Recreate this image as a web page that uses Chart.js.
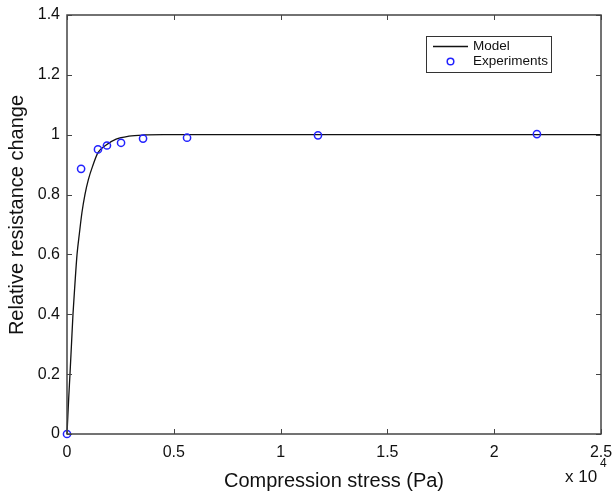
<!DOCTYPE html>
<html>
<head>
<meta charset="utf-8">
<script src="https://cdn.jsdelivr.net/npm/chart.js@4.4.1/dist/chart.umd.min.js"></script>
<style>
html,body{margin:0;padding:0;background:#fff;}
#wrap{width:614px;height:492px;position:relative;}
</style>
</head>
<body>
<div id="wrap"><canvas id="c" width="614" height="492"></canvas></div>
<script>
// Data (x in units of 10^4 Pa)
const modelX = [0, 0.004, 0.008, 0.014, 0.021, 0.028, 0.037, 0.047, 0.058, 0.07, 0.084, 0.1, 0.12, 0.145, 0.18, 0.23, 0.29, 0.36, 0.45, 0.6, 1.0, 2.5];
const modelY = [0, 0.06, 0.12, 0.2, 0.3, 0.4, 0.5, 0.6, 0.67, 0.74, 0.8, 0.85, 0.895, 0.94, 0.964, 0.985, 0.995, 0.999, 1.0, 1.0, 1.0, 1.0];
const expX = [0, 0.066, 0.145, 0.187, 0.253, 0.356, 0.562, 1.175, 2.2];
const expY = [0, 0.886, 0.951, 0.964, 0.973, 0.987, 0.99, 0.998, 1.002];
const xTicks = [0, 0.5, 1, 1.5, 2, 2.5];
const yTicks = [0, 0.2, 0.4, 0.6, 0.8, 1, 1.2, 1.4];
const seriesNames = ["Model", "Experiments"];
const xTitle = "Compression stress (Pa)";
const yTitle = "Relative resistance change";

const FONT = "'Liberation Sans', Arial, Helvetica, sans-serif";
const FRAME = "#444";

const framePlugin = {
  id: 'frame',
  afterDraw(chart) {
    const ctx = chart.ctx;
    const a = chart.chartArea;
    const xs = chart.scales.x, ys = chart.scales.y;
    ctx.save();
    ctx.strokeStyle = FRAME;
    ctx.lineWidth = 1.5;
    ctx.strokeRect(a.left, a.top, a.right - a.left, a.bottom - a.top);
    ctx.lineWidth = 1;
    ctx.beginPath();
    xTicks.forEach(v => {
      const p = Math.round(xs.getPixelForValue(v)) + 0.5;
      ctx.moveTo(p, a.bottom); ctx.lineTo(p, a.bottom - 5);
      ctx.moveTo(p, a.top); ctx.lineTo(p, a.top + 5);
    });
    yTicks.forEach(v => {
      const p = Math.round(ys.getPixelForValue(v)) + 0.5;
      ctx.moveTo(a.left, p); ctx.lineTo(a.left + 5, p);
      ctx.moveTo(a.right, p); ctx.lineTo(a.right - 5, p);
    });
    ctx.stroke();

    // axis titles
    ctx.fillStyle = "#111";
    ctx.font = "20px " + FONT;
    ctx.textAlign = "center";
    ctx.textBaseline = "middle";
    ctx.fillText(xTitle, (a.left + a.right) / 2, 481);
    ctx.save();
    ctx.translate(17, 215);
    ctx.rotate(-Math.PI / 2);
    ctx.fillText(yTitle, 0, 0);
    ctx.restore();

    // exponent label
    ctx.textAlign = "left";
    ctx.font = "17px " + FONT;
    ctx.fillText("x 10", 565, 477);
    ctx.font = "12px " + FONT;
    ctx.fillText("4", 600, 464);

    // legend
    const lx = 426, ly = 36, lw = 125, lh = 36;
    ctx.fillStyle = "#fff";
    ctx.fillRect(lx, ly, lw, lh);
    ctx.strokeStyle = "#333";
    ctx.lineWidth = 1;
    ctx.strokeRect(lx + 0.5, ly + 0.5, lw, lh);
    ctx.strokeStyle = "#111";
    ctx.lineWidth = 1.3;
    ctx.beginPath(); ctx.moveTo(433, 46.5); ctx.lineTo(468, 46.5); ctx.stroke();
    ctx.strokeStyle = "#2222ff";
    ctx.lineWidth = 1.5;
    ctx.beginPath(); ctx.arc(450.5, 61.5, 3.3, 0, Math.PI * 2); ctx.stroke();
    ctx.fillStyle = "#111";
    ctx.font = "13.5px " + FONT;
    ctx.textBaseline = "middle";
    ctx.fillText(seriesNames[0], 473, 46);
    ctx.fillText(seriesNames[1], 473, 61);
    ctx.restore();
  }
};

new Chart(document.getElementById('c'), {
  type: 'scatter',
  data: {
    datasets: [
      {
        label: seriesNames[0],
        data: modelX.map((x, i) => ({x: x, y: modelY[i]})),
        showLine: true,
        borderColor: "#111",
        borderWidth: 1.3,
        pointRadius: 0,
        cubicInterpolationMode: 'monotone',
        fill: false,
        order: 2
      },
      {
        label: seriesNames[1],
        data: expX.map((x, i) => ({x: x, y: expY[i]})),
        showLine: false,
        borderColor: "#2222ff",
        backgroundColor: "rgba(0,0,0,0)",
        borderWidth: 1.5,
        pointRadius: 3.6,
        pointStyle: 'circle',
        order: 1
      }
    ]
  },
  options: {
    responsive: false,
    animation: false,
    clip: false,
    layout: {padding: {left: 0, right: 13, top: 15, bottom: 0}},
    plugins: {legend: {display: false}, tooltip: {enabled: false}},
    scales: {
      x: {
        type: 'linear', min: 0, max: 2.5,
        afterFit(s) { s.height = 58; s.paddingLeft = 0; s.paddingRight = 0; },
        afterBuildTicks(s) { s.ticks = xTicks.map(v => ({value: v})); },
        grid: {display: false, drawTicks: false},
        border: {display: false},
        ticks: {
          font: {family: FONT, size: 16}, color: "#111", padding: 9,
          maxRotation: 0, autoSkip: false,
          callback: v => String(v)
        }
      },
      y: {
        type: 'linear', min: 0, max: 1.4,
        afterFit(s) { s.width = 67; s.paddingTop = 0; s.paddingBottom = 0; },
        afterBuildTicks(s) { s.ticks = yTicks.map(v => ({value: v})); },
        grid: {display: false, drawTicks: false},
        border: {display: false},
        ticks: {
          font: {family: FONT, size: 16}, color: "#111", padding: 7,
          autoSkip: false,
          callback: v => String(Math.round(v * 10) / 10)
        }
      }
    }
  },
  plugins: [framePlugin]
});
</script>
</body>
</html>
